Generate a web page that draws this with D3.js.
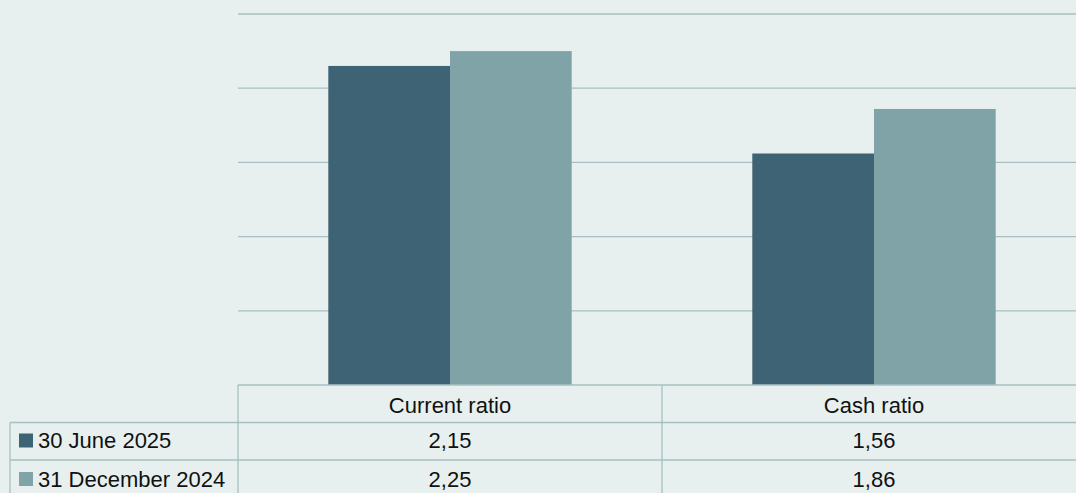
<!DOCTYPE html>
<html>
<head>
<meta charset="utf-8">
<script src="https://cdn.jsdelivr.net/npm/d3@7"></script>
<style>
  html, body { margin: 0; padding: 0; background: #e8f0ef; }
  svg { display: block; }
  text { font-family: "Liberation Sans", Arial, sans-serif; fill: #111; }
</style>
</head>
<body>
<svg id="chart" width="1076" height="493"></svg>
<script>
// Liquidity ratios by reporting date
const categories = ["Current ratio", "Cash ratio"];
const seriesNames = ["30 June 2025", "31 December 2024"];
const values2025 = [2.15, 1.56];
const values2024 = [2.25, 1.86];
const yTicks = [0, 0.5, 1, 1.5, 2, 2.5];
const colors = ["#3e6374", "#80a3a7"];

const series = [values2025, values2024];
const W = 1076, H = 493;
const plot = { left: 238, right: 1086, top: 14, bottom: 385 };
const rowLines = [385, 422.5, 460];
const rowCenters = [405, 440.5, 479];
const tableLeft = 10;
const lineColor = "#a6c0c2";
const fontSize = 22;

const svg = d3.select("#chart");

const x = d3.scaleBand().domain(categories).range([plot.left, plot.right]).paddingInner(0).paddingOuter(0);
const x1 = d3.scaleBand().domain(d3.range(series.length)).range([0, x.bandwidth()]).paddingInner(0).paddingOuter(0.742);
const y = d3.scaleLinear().domain([0, 2.5]).range([plot.bottom, plot.top]);

// gridlines
svg.append("g").selectAll("line").data(yTicks.filter(t => t > 0)).join("line")
  .attr("x1", plot.left).attr("x2", W)
  .attr("y1", d => y(d)).attr("y2", d => y(d))
  .attr("stroke", lineColor).attr("stroke-width", 1.3);

// bars
const groups = svg.append("g").selectAll("g").data(categories).join("g")
  .attr("transform", d => `translate(${x(d)},0)`);
groups.selectAll("rect").data((c, i) => series.map((s, k) => ({ k, v: s[i] }))).join("rect")
  .attr("x", d => x1(d.k))
  .attr("width", x1.bandwidth())
  .attr("y", d => y(d.v))
  .attr("height", d => y(0) - y(d.v))
  .attr("fill", d => colors[d.k]);

// data table
const t = svg.append("g");
const rule = (x1_, x2_, y1_, y2_) => t.append("line")
  .attr("x1", x1_).attr("x2", x2_).attr("y1", y1_).attr("y2", y2_)
  .attr("stroke", lineColor).attr("stroke-width", 1.3);
rule(plot.left, W, rowLines[0], rowLines[0]);
rule(tableLeft, W, rowLines[1], rowLines[1]);
rule(tableLeft, W, rowLines[2], rowLines[2]);
rule(tableLeft, tableLeft, rowLines[1], H);
rule(plot.left, plot.left, rowLines[0], H);
rule(x(categories[1]), x(categories[1]), rowLines[0], H);

// header labels
t.selectAll("text.cat").data(categories).join("text").attr("class", "cat")
  .attr("x", d => x(d) + x.bandwidth() / 2)
  .attr("y", rowCenters[0])
  .attr("text-anchor", "middle").attr("dominant-baseline", "central")
  .attr("font-size", fontSize).text(d => d);

const fmt = v => d3.format(".2f")(v).replace(".", ",");
series.forEach((s, k) => {
  const cy = rowCenters[k + 1];
  t.append("rect").attr("x", 19).attr("y", cy - 7).attr("width", 14).attr("height", 14).attr("fill", colors[k]);
  t.append("text").attr("x", 38).attr("y", cy).attr("dominant-baseline", "central")
    .attr("font-size", fontSize).text(seriesNames[k]);
  t.selectAll(null).data(categories).join("text")
    .attr("x", d => x(d) + x.bandwidth() / 2)
    .attr("y", cy)
    .attr("text-anchor", "middle").attr("dominant-baseline", "central")
    .attr("font-size", fontSize).text((d, i) => fmt(s[i]));
});
</script>
</body>
</html>
